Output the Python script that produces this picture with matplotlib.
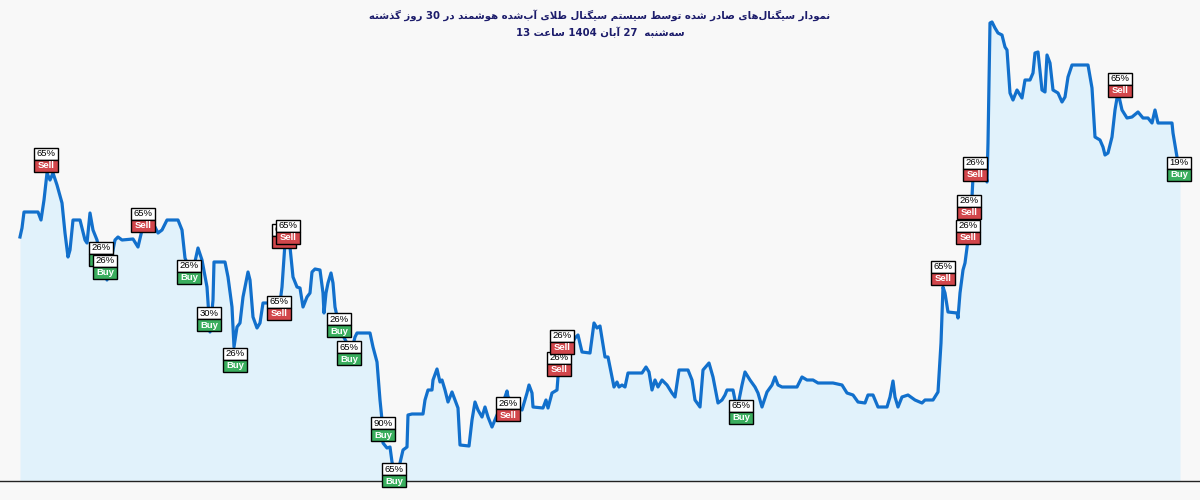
import re
import matplotlib
matplotlib.use("Agg")
import matplotlib.pyplot as plt
from matplotlib.patches import Rectangle

# ---- data (x = time position, value = price level, arbitrary units)
t = [20, 22, 24, 38, 41, 44, 47, 50, 53, 57, 62, 65, 68, 70, 73, 80, 85, 87, 90, 93,
     97, 100, 104, 107, 110, 113, 115, 118, 122, 133, 138, 142, 148, 155, 158, 162, 167, 178, 182, 185,
     192, 198, 202, 207, 210, 213, 214, 225, 228, 232, 234, 237, 240, 243, 245, 248, 250, 253, 257, 260,
     263, 280, 282, 285, 288, 290, 293, 297, 300, 303, 307, 310, 312, 315, 320, 323, 324, 326, 328, 331,
     333, 335, 340, 348, 353, 355, 357, 370, 373, 377, 380, 382, 383, 387, 390, 392, 396, 400, 403, 407,
     408, 412, 423, 425, 428, 432, 433, 437, 440, 442, 445, 448, 452, 455, 458, 460, 469, 472, 475, 478,
     482, 485, 488, 492, 497, 505, 507, 508, 522, 527, 529, 532, 533, 543, 546, 548, 552, 557, 558, 562,
     567, 571, 575, 578, 582, 590, 594, 597, 600, 603, 605, 608, 611, 614, 617, 619, 622, 625, 628, 642,
     646, 649, 652, 655, 658, 662, 667, 672, 675, 679, 688, 692, 695, 700, 703, 709, 713, 718, 722, 725,
     727, 733, 737, 742, 745, 750, 755, 758, 762, 767, 772, 775, 778, 782, 797, 802, 807, 813, 818, 833,
     842, 847, 853, 858, 865, 868, 873, 878, 887, 890, 893, 895, 898, 902, 908, 915, 922, 925, 933, 938,
     941, 943, 945, 948, 957, 958, 960, 963, 965, 968, 970, 972, 973, 978, 985, 987, 988, 990, 992, 995,
     998, 1002, 1005, 1007, 1010, 1013, 1017, 1022, 1025, 1030, 1033, 1035, 1038, 1042, 1045, 1047, 1050, 1053, 1058, 1062,
     1065, 1068, 1072, 1088, 1092, 1095, 1100, 1103, 1105, 1108, 1112, 1115, 1118, 1122, 1127, 1132, 1138, 1143, 1148, 1152,
     1155, 1158, 1172, 1173, 1177, 1180]
price = [244, 253, 269, 269, 261, 281, 308, 301, 308, 296, 278, 248, 224, 231, 261, 261, 241, 238, 268, 251,
         241, 226, 216, 201, 216, 231, 241, 244, 241, 242, 234, 251, 253, 254, 248, 251, 261, 261, 251, 223,
         206, 233, 221, 194, 149, 181, 219, 219, 204, 174, 134, 154, 158, 184, 194, 209, 201, 164, 153, 158,
         178, 178, 194, 238, 244, 234, 204, 194, 193, 174, 184, 188, 209, 212, 211, 188, 168, 188, 198, 208,
         198, 174, 151, 136, 136, 144, 148, 148, 134, 119, 81, 61, 38, 33, 34, 19, 3, 18, 31, 34,
         66, 67, 67, 81, 91, 91, 101, 112, 99, 101, 91, 79, 89, 81, 73, 36, 35, 61, 79, 71,
         64, 74, 64, 54, 66, 84, 90, 84, 71, 88, 96, 88, 74, 73, 81, 73, 88, 91, 104, 129,
         141, 136, 143, 146, 129, 128, 158, 153, 155, 136, 124, 124, 109, 94, 99, 94, 96, 94, 108, 108,
         114, 109, 91, 101, 94, 101, 96, 88, 84, 111, 111, 101, 81, 74, 111, 118, 104, 78, 81, 86,
         91, 91, 71, 96, 109, 101, 94, 88, 74, 89, 96, 104, 96, 94, 94, 104, 101, 101, 98, 98,
         96, 88, 86, 79, 78, 86, 86, 74, 74, 84, 100, 84, 74, 84, 86, 81, 78, 81, 81, 89,
         138, 194, 188, 169, 168, 163, 188, 211, 218, 241, 266, 284, 304, 311, 311, 299, 338, 458, 459, 453,
         448, 446, 434, 431, 388, 381, 391, 383, 401, 401, 408, 428, 429, 391, 389, 426, 418, 391, 388, 379,
         384, 404, 416, 416, 393, 344, 341, 334, 326, 328, 344, 371, 389, 371, 363, 364, 369, 363, 363, 358,
         371, 358, 358, 348, 324, 303]

sig_t = [46, 101, 105, 143, 189, 209, 235, 279, 284, 288, 339, 349, 383, 394, 508, 559, 562, 741,
         943, 968, 969, 975, 1120, 1179]
sig_price = [321, 227, 214, 261, 209, 162, 121, 173, 245, 249, 156, 128, 52, 6, 72, 117, 139, 69,
             208, 249, 274, 312, 396, 312]
sig_conf = [65, 26, 26, 65, 26, 30, 26, 65, 65, 65, 26, 65, 90, 65, 26, 26, 26, 65,
            65, 26, 26, 26, 65, 19]
sig_side = ["Sell", "Buy", "Buy", "Sell", "Buy", "Buy", "Buy", "Sell", "Sell", "Sell", "Buy", "Buy",
            "Buy", "Buy", "Sell", "Sell", "Sell", "Buy", "Sell", "Sell", "Sell", "Sell", "Sell", "Buy"]

title_1 = "نمودار سیگنال‌های صادر شده توسط سیستم سیگنال طلای آب‌شده هوشمند در 30 روز گذشته"
title_2 = "سه‌شنبه  27 آبان 1404 ساعت 13"

# ---- tiny persian shaper (matplotlib has no arabic shaping / bidi)
FORMS = {
    '\u0622': ('\ufe81', '\ufe82', None, None),
    '\u0627': ('\ufe8d', '\ufe8e', None, None),
    '\u0628': ('\ufe8f', '\ufe90', '\ufe91', '\ufe92'),
    '\u062a': ('\ufe95', '\ufe96', '\ufe97', '\ufe98'),
    '\u062f': ('\ufea9', '\ufeaa', None, None),
    '\u0630': ('\ufeab', '\ufeac', None, None),
    '\u0631': ('\ufead', '\ufeae', None, None),
    '\u0632': ('\ufeaf', '\ufeb0', None, None),
    '\u0633': ('\ufeb1', '\ufeb2', '\ufeb3', '\ufeb4'),
    '\u0634': ('\ufeb5', '\ufeb6', '\ufeb7', '\ufeb8'),
    '\u0635': ('\ufeb9', '\ufeba', '\ufebb', '\ufebc'),
    '\u0637': ('\ufec1', '\ufec2', '\ufec3', '\ufec4'),
    '\u0639': ('\ufec9', '\ufeca', '\ufecb', '\ufecc'),
    '\u0644': ('\ufedd', '\ufede', '\ufedf', '\ufee0'),
    '\u0645': ('\ufee1', '\ufee2', '\ufee3', '\ufee4'),
    '\u0646': ('\ufee5', '\ufee6', '\ufee7', '\ufee8'),
    '\u0647': ('\ufee9', '\ufeea', '\ufeeb', '\ufeec'),
    '\u0648': ('\ufeed', '\ufeee', None, None),
    '\u06cc': ('\ufbfc', '\ufbfd', '\ufbfe', '\ufbff'),
    '\u06af': ('\ufb92', '\ufb93', '\ufb94', '\ufb95'),
    'LA': ('\ufefb', '\ufefc', None, None),
    'LAA': ('\ufef5', '\ufef6', None, None),
}


def shape_word(w):
    units = []
    i = 0
    while i < len(w):
        c = w[i]
        if c == '\u0644' and i + 1 < len(w) and w[i + 1] in ('\u0627', '\u0622'):
            units.append('LA' if w[i + 1] == '\u0627' else 'LAA')
            i += 2
            continue
        units.append(c)
        i += 1
    out = []
    for k, u in enumerate(units):
        if u not in FORMS:
            out.append(u)
            continue
        prev = units[k - 1] if k > 0 else None
        nxt = units[k + 1] if k + 1 < len(units) else None
        jp = prev in FORMS and FORMS[prev][2] is not None
        jn = FORMS[u][2] is not None and nxt in FORMS
        iso, fin, ini, med = FORMS[u]
        if jp and jn:
            out.append(med)
        elif jp:
            out.append(fin)
        elif jn:
            out.append(ini)
        else:
            out.append(iso)
    return ''.join(out).replace('\u200c', '')[::-1]


def rtl(s):
    # shape each word, reverse it, then lay the words out right to left
    toks = re.split(r'( +)', s)
    toks = [shape_word(x) if any(ch in FORMS for ch in x) else x for x in toks]
    return ''.join(toks[::-1])


# ---- figure
bg = "#f8f8f8"
fig = plt.figure(figsize=(12, 5), dpi=100, facecolor=bg)
ax = fig.add_axes([0, 19 / 500, 1, 461 / 500])
ax.set_facecolor(bg)
ax.set_xlim(0, 1200)
ax.set_ylim(0, 461)

ax.fill_between(t, price, 0, color="#e1f2fb", lw=0, zorder=1)
ax.plot(t, price, color="#1270cc", lw=2.3, solid_joinstyle="round", zorder=2)

for s in ["top", "left", "right"]:
    ax.spines[s].set_visible(False)
ax.spines["bottom"].set_color("#222222")
ax.spines["bottom"].set_linewidth(1.0)
ax.spines["bottom"].set_zorder(3)
ax.set_xticks([])
ax.set_yticks([])

bw, bh = 24, 12
z = 5
for x, p, c, sd in zip(sig_t, sig_price, sig_conf, sig_side):
    col = "#d2464b" if sd == "Sell" else "#3aae5e"
    ax.add_patch(Rectangle((x - bw / 2, p), bw, bh, facecolor="white", edgecolor="black",
                           lw=1.0, zorder=z, clip_on=False))
    ax.add_patch(Rectangle((x - bw / 2, p - bh), bw, bh, facecolor=col, edgecolor="black",
                           lw=1.0, zorder=z, clip_on=False))
    ax.text(x, p + bh / 2, f"{c}%", ha="center", va="center", fontsize=6.8,
            family="Liberation Sans", color="black", zorder=z + 1, clip_on=False)
    ax.text(x, p - bh / 2, sd, ha="center", va="center", fontsize=6.8, fontweight="bold",
            family="Liberation Sans", color="white", zorder=z + 1, clip_on=False)
    z += 2

fig.text(0.5, 1 - 15 / 500, rtl(title_1), ha="center", va="center", fontsize=7.3,
         fontweight="bold", color="#1c1c6b", family="DejaVu Sans")
fig.text(0.5, 1 - 32 / 500, rtl(title_2), ha="center", va="center",
         fontsize=7.3, fontweight="bold", color="#1c1c6b", family="DejaVu Sans")

fig.savefig("out.png", dpi=100, facecolor=bg)
